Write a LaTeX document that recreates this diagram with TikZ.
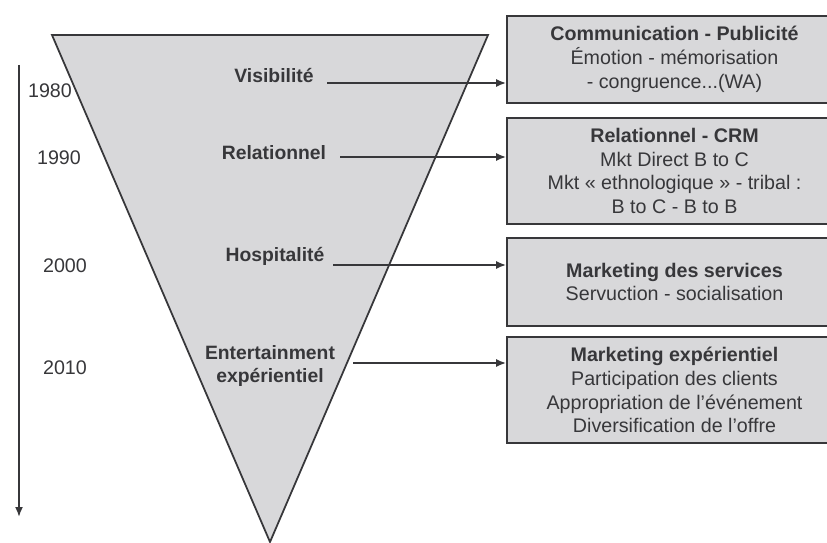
\documentclass[tikz,border=0pt]{standalone}
\usepackage{fontspec}
\setmainfont{Liberation Sans}
\usetikzlibrary{arrows.meta}
\definecolor{funnelfill}{RGB}{216,216,218}
\definecolor{inkgray}{RGB}{55,55,58}

\begin{document}
\begin{tikzpicture}[x=0.02cm, y=-0.02cm, line width=1pt, color=inkgray,
    font=\fontsize{11.2}{13.6}\selectfont,
    stage/.style={font=\fontsize{11}{13.6}\selectfont\bfseries, align=center},
    mktbox/.style={draw, fill=funnelfill, minimum width=6.7cm, align=center, inner sep=0pt},
    tip/.style={-{Latex[length=2mm,width=1.6mm]}}]
    \useasboundingbox (0,0) rectangle (827,543);
    \clip (0,0) rectangle (827,543);

    % Define coordinates for the funnel
    \coordinate (ftl) at (52, 35);
    \coordinate (ftr) at (488, 35);
    \coordinate (fbot) at (270, 542);
    \draw[fill=funnelfill] (ftl) -- (ftr) -- (fbot) -- cycle;

    % Time axis and years
    \coordinate (t0) at (19, 65);
    \coordinate (t1) at (19, 517);
    \draw[tip] (t0) -- (t1);
    \node (y80) at (50, 91) {1980};
    \node (y90) at (59, 158) {1990};
    \node (y00) at (65, 266) {2000};
    \node (y10) at (65, 368) {2010};

    % Stages inside the funnel
    \node[stage] (vis) at (274, 76) {Visibilité};
    \node[stage] (rel) at (274, 153) {Relationnel};
    \node[stage] (hos) at (275, 256) {Hospitalité};
    \node[stage] (ent) at (270, 366) {Entertainment\\expérientiel};

    % Marketing boxes
    \node[mktbox, minimum height=1.74cm] (pub) at (674.5, 59.5)
        {\textbf{Communication - Publicité}\\Émotion - mémorisation\\- congruence...(WA)};
    \node[mktbox, minimum height=2.12cm] (crm) at (674.5, 171)
        {\textbf{Relationnel - CRM}\\Mkt Direct B to C\\Mkt « ethnologique » - tribal :\\B to C - B to B};
    \node[mktbox, minimum height=1.76cm] (serv) at (674.5, 282)
        {\textbf{Marketing des services}\\Servuction - socialisation};
    \node[mktbox, minimum height=2.12cm] (expe) at (674.5, 390)
        {\textbf{Marketing expérientiel}\\Participation des clients\\Appropriation de l’événement\\Diversification de l’offre};

    % Draw the 4 arrows
    \coordinate (vis-out) at (327, 83);
    \coordinate (rel-out) at (340, 157);
    \coordinate (hos-out) at (333, 265);
    \coordinate (ent-out) at (353, 363);
    \draw[tip] (vis-out) -- (vis-out -| pub.west);
    \draw[tip] (rel-out) -- (rel-out -| crm.west);
    \draw[tip] (hos-out) -- (hos-out -| serv.west);
    \draw[tip] (ent-out) -- (ent-out -| expe.west);
\end{tikzpicture}
\end{document}
